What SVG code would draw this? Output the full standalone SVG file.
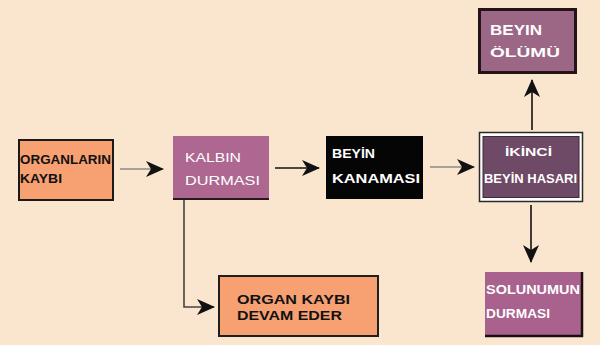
<svg xmlns="http://www.w3.org/2000/svg" width="600" height="345" viewBox="0 0 600 345">
<defs>
<style>
.t{font-family:"Liberation Sans","DejaVu Sans",sans-serif;font-weight:bold;font-size:13.5px}
.w{fill:#ffffff}
.k{fill:#111111}
.ln{fill:none;stroke-width:1.6}
</style>
<marker id="ah" viewBox="0 0 18 16" refX="17" refY="8" markerWidth="18" markerHeight="16" markerUnits="userSpaceOnUse" orient="auto">
<path d="M0,0 L18,8 L0,16 L5,8 z" fill="#111"/>
</marker>
</defs>
<rect width="600" height="345" fill="#fae5ce"/>
<g id="connectors">
<line class="ln" x1="120" y1="169" x2="163" y2="169" stroke="#8a8a8a" marker-end="url(#ah)"/>
<line class="ln" x1="275" y1="168" x2="319" y2="168" stroke="#111" marker-end="url(#ah)"/>
<line class="ln" x1="430" y1="167" x2="474" y2="167" stroke="#8a8a8a" marker-end="url(#ah)"/>
<line class="ln" x1="532" y1="130" x2="532" y2="80" stroke="#111" marker-end="url(#ah)"/>
<line class="ln" x1="531" y1="205" x2="531" y2="262" stroke="#111" marker-end="url(#ah)"/>
<polyline class="ln" points="184,200 184,307 214,307" stroke="#444" marker-end="url(#ah)"/>
</g>
<g id="organlarin-kaybi">
<rect x="19" y="140" width="94" height="60" fill="#f7a072" stroke="#1a1a1a" stroke-width="2"/>
<text class="t k" x="20" y="164" textLength="91" lengthAdjust="spacingAndGlyphs">ORGANLARIN</text>
<text class="t k" x="20" y="183" textLength="42" lengthAdjust="spacingAndGlyphs">KAYBI</text>
</g>
<g id="kalbin-durmasi">
<rect x="173" y="136" width="96" height="63" fill="#ad6790"/>
<line x1="173" y1="199" x2="269" y2="199" stroke="#2a1a20" stroke-width="2"/>
<text class="t w" x="185" y="162" textLength="56" lengthAdjust="spacingAndGlyphs" style="font-weight:normal">KALBIN</text>
<text class="t w" x="185" y="185" textLength="75" lengthAdjust="spacingAndGlyphs" style="font-weight:normal">DURMASI</text>
</g>
<g id="beyin-kanamasi">
<rect x="326" y="136" width="97" height="63" fill="#050505"/>
<text class="t w" x="332" y="158" textLength="43" lengthAdjust="spacingAndGlyphs">BEYİN</text>
<text class="t w" x="332" y="183" textLength="88" lengthAdjust="spacingAndGlyphs">KANAMASI</text>
</g>
<g id="ikinci-beyin-hasari">
<rect x="479.5" y="132.5" width="103" height="69" fill="#ffffff" stroke="#2a2a2a" stroke-width="1.5"/>
<rect x="483" y="136.5" width="96" height="61" fill="#6f4a66" stroke="#3a2a34" stroke-width="1"/>
<text class="t w" x="505" y="156" textLength="47" lengthAdjust="spacingAndGlyphs" style="font-size:10.5px">İKİNCİ</text>
<text class="t w" x="484" y="183" textLength="93" lengthAdjust="spacingAndGlyphs">BEYİN HASARI</text>
</g>
<g id="beyin-olumu">
<rect x="479.5" y="9.5" width="96" height="63" fill="#9c6685" stroke="#231418" stroke-width="3"/>
<text class="t w" x="490" y="35" textLength="52" lengthAdjust="spacingAndGlyphs" style="font-size:14.5px">BEYIN</text>
<text class="t w" x="490" y="57" textLength="70" lengthAdjust="spacingAndGlyphs">ÖLÜMÜ</text>
</g>
<g id="organ-kaybi-devam-eder">
<rect x="219" y="276" width="159" height="60" fill="#f7a072" stroke="#1f1f1f" stroke-width="2"/>
<text class="t k" x="237" y="304" textLength="113" lengthAdjust="spacingAndGlyphs">ORGAN KAYBI</text>
<text class="t k" x="237" y="320" textLength="105" lengthAdjust="spacingAndGlyphs">DEVAM EDER</text>
</g>
<g id="solunumun-durmasi">
<rect x="485" y="272" width="97" height="64" fill="#a8628d"/>
<path d="M485,336 L582,336 L582,272" fill="none" stroke="#1a1014" stroke-width="2.5"/>
<text class="t w" x="486" y="294" textLength="94" lengthAdjust="spacingAndGlyphs">SOLUNUMUN</text>
<text class="t w" x="486" y="318" textLength="64" lengthAdjust="spacingAndGlyphs">DURMASI</text>
</g>
</svg>
